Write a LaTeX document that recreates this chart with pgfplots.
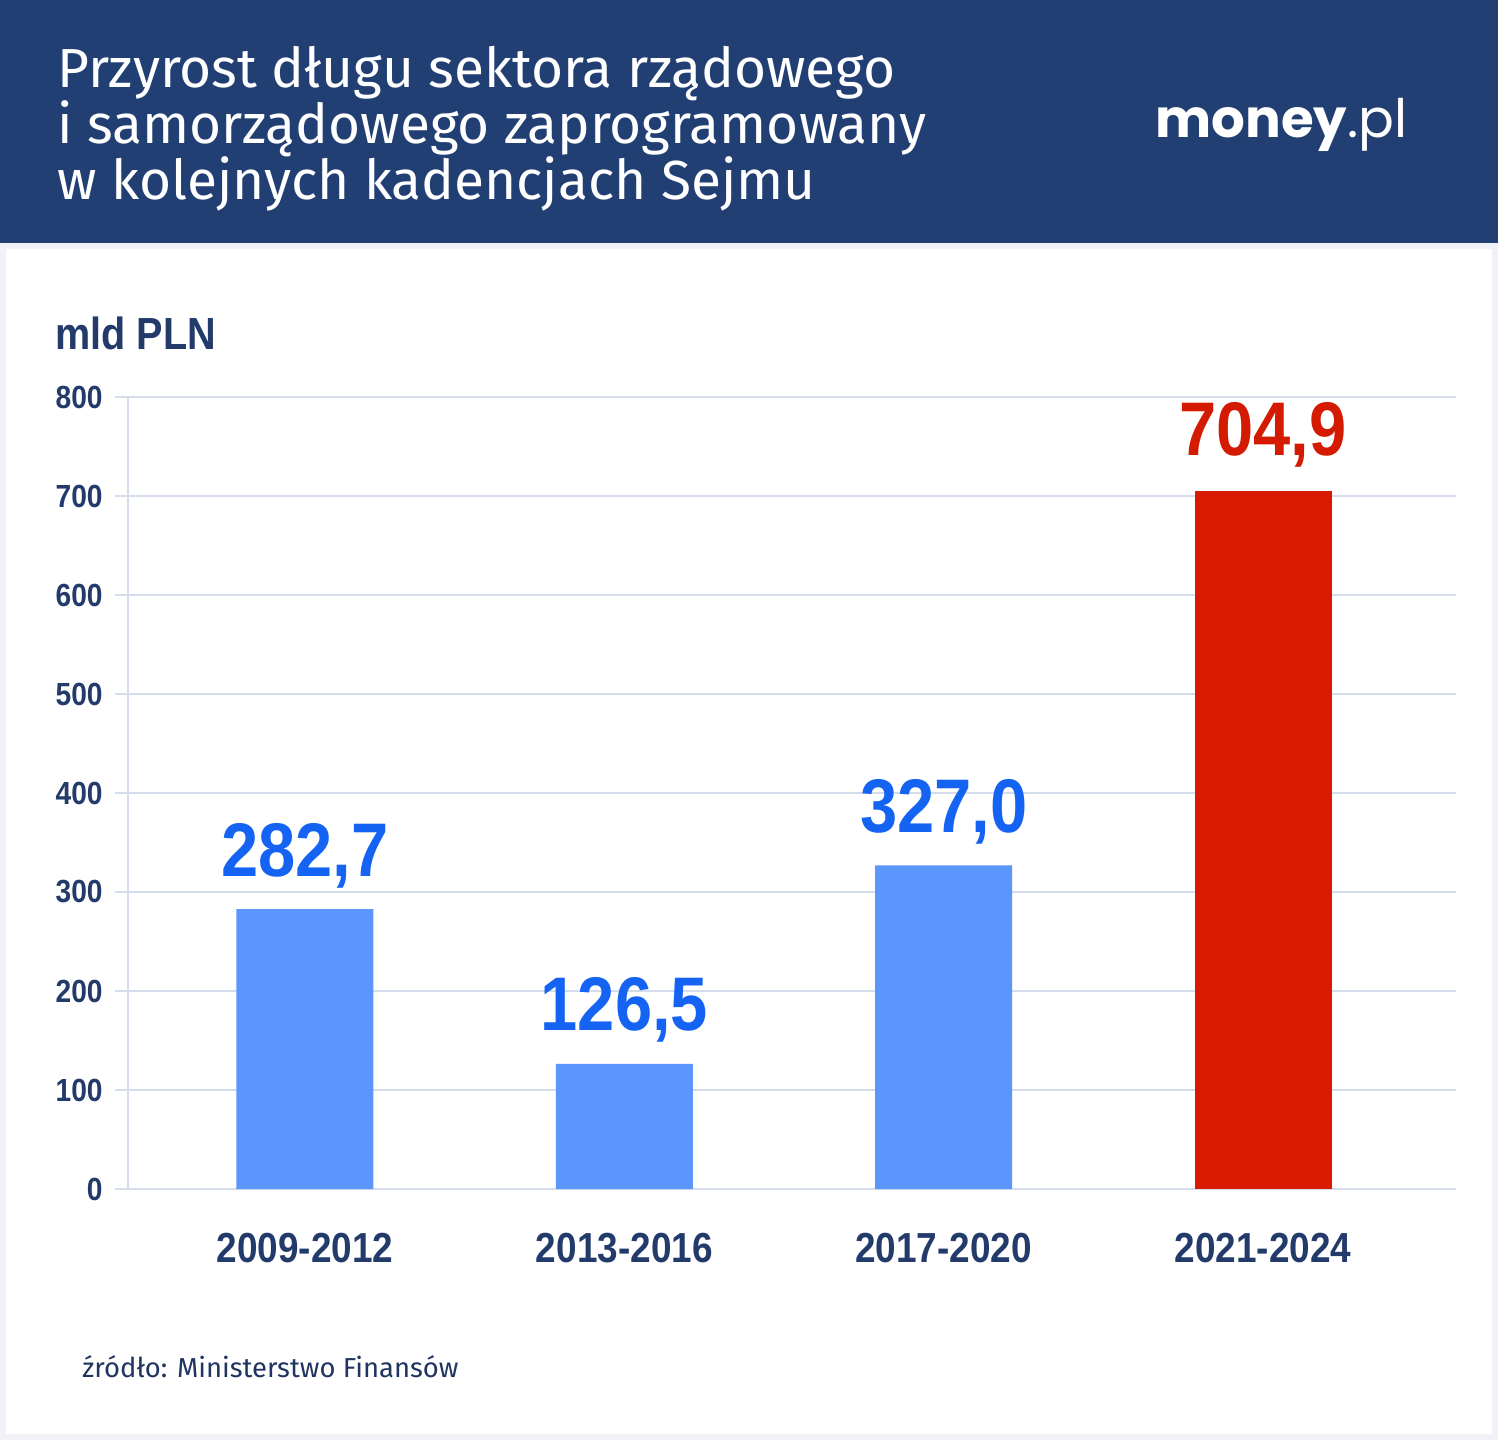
\documentclass[border=0pt]{standalone}
\usepackage{pgfplots}
\pgfplotsset{compat=1.18}
\usepackage{fontspec}
\setmainfont{Liberation Sans}
\newfontfamily\cond[FakeStretch=0.88]{Liberation Sans}
\newfontfamily\titlefont{Fira Sans}
\newfontfamily\logofont{Poppins}
\definecolor{navy}{HTML}{223F73}
\definecolor{darktext}{HTML}{233B6B}
\definecolor{barblue}{HTML}{5B96FD}
\definecolor{labblue}{HTML}{1463F3}
\definecolor{barred}{HTML}{D81A00}
\definecolor{labred}{HTML}{D41A00}
\definecolor{gridc}{HTML}{D5DDEC}
\definecolor{bgframe}{HTML}{F1F2F8}
\definecolor{srctext}{HTML}{1F3461}
\pgfplotstableread{
x y lab
0 282.7 {282,7}
1 126.5 {126,5}
2 327.0 {327,0}
}\bluedata
\pgfplotstableread{
x y lab
3 704.9 {704,9}
}\reddata
\begin{document}
\begin{tikzpicture}[x=0.5pt,y=0.5pt]
\useasboundingbox (0,0) rectangle (1498,1440);
\fill[bgframe] (0,0) rectangle (1498,1440);
\fill[white] (6,6) rectangle (1492,1191);
\fill[navy] (0,1197) rectangle (1498,1440);
\node[anchor=base west, text=white, font=\titlefont\fontsize{27.5}{30}\selectfont, inner sep=0] at (57,1352) {Przyrost długu sektora rządowego};
\node[anchor=base west, text=white, font=\titlefont\fontsize{27.5}{30}\selectfont, inner sep=0] at (57,1296) {i samorządowego zaprogramowany};
\node[anchor=base west, text=white, font=\titlefont\fontsize{27.5}{30}\selectfont, inner sep=0] at (57,1240) {w kolejnych kadencjach Sejmu};
\node[anchor=base west, text=white, font=\logofont\fontsize{26.5}{30}\selectfont, inner sep=0] at (1155,1302) {{\bfseries money}.pl};
\node[anchor=base west, text=darktext, font=\cond\bfseries\fontsize{22.5}{25}\selectfont, inner sep=0] at (55,1090) {mld PLN};
\node[anchor=base west, text=srctext, font=\titlefont\fontsize{13.7}{16}\selectfont, inner sep=0] at (82,63) {źródło: Ministerstwo Finansów};
\begin{axis}[
  at={(64pt,125.5pt)}, anchor=south west,
  width=664pt, height=396pt, scale only axis,
  xmin=-0.554, xmax=3.604, ymin=0, ymax=800,
  ytick={0,100,...,800},
  xtick={0,1,2,3},
  xticklabels={2009-2012,2013-2016,2017-2020,2021-2024},
  axis x line*=bottom, axis y line*=left,
  axis line style={gridc, line width=0.7pt},
  ymajorgrids, grid style={gridc, line width=0.7pt},
  tick align=outside, major tick length=6.5pt,
  major tick style={gridc, line width=0.7pt},
  major x tick style={draw=none},
  /pgf/number format/assume math mode=true,
  yticklabel style={font=\cond\bfseries\fontsize{16}{18}\selectfont, text=darktext, inner sep=0pt, xshift=-6pt},
  xticklabel style={font=\cond\bfseries\fontsize{21}{24}\selectfont, text=darktext, inner sep=0pt, anchor=north, yshift=-15.5pt},
  clip=false,
]
\addplot[ybar, bar width=68.5pt, bar shift=0pt, fill=barblue, draw=none,
  point meta=explicit symbolic, nodes near coords,
  nodes near coords style={text=labblue, font=\cond\bfseries\fontsize{38}{40}\selectfont, anchor=base, inner sep=0pt, yshift=16.5pt}]
  table[x=x, y=y, meta=lab] {\bluedata};
\addplot[ybar, bar width=68.5pt, bar shift=0pt, fill=barred, draw=none,
  point meta=explicit symbolic, nodes near coords,
  nodes near coords style={text=labred, font=\cond\bfseries\fontsize{38}{40}\selectfont, anchor=base, inner sep=0pt, yshift=18pt}]
  table[x=x, y=y, meta=lab] {\reddata};
\end{axis}
\end{tikzpicture}
\end{document}
